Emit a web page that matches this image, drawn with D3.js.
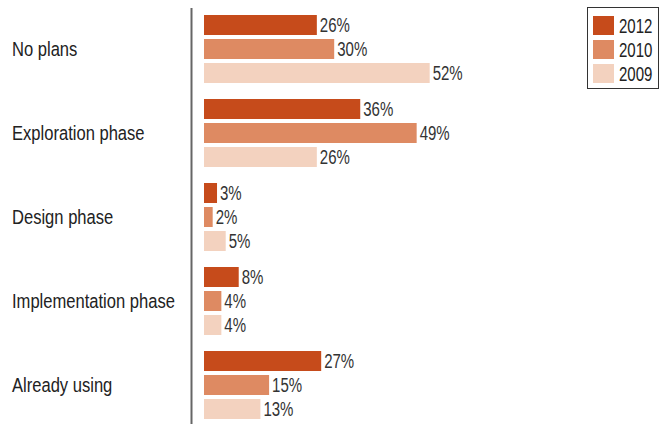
<!DOCTYPE html>
<html><head><meta charset="utf-8">
<script src="https://cdn.jsdelivr.net/npm/d3@7"></script>
<style>
body{margin:0;background:#fff;}
text{font-family:"Liberation Sans",Arial,sans-serif;}
</style></head><body>
<svg id="chart" width="663" height="424"></svg>
<script>
const categories = ["No plans","Exploration phase","Design phase","Implementation phase","Already using"];
const seriesNames = ["2012","2010","2009"];
const v2012 = [26,36,3,8,27];
const v2010 = [30,49,2,4,15];
const v2009 = [52,26,5,4,13];
const colors = ["#c64b1b","#de8a62","#f3d2bf"];

const svg = d3.select("#chart");
const series = [v2012, v2010, v2009];
const x = d3.scaleLinear().domain([0,100]).range([204, 204+434]);
const y0 = d3.scaleBand().domain(categories).range([15, 15+84*5]).paddingInner(0).paddingOuter(0);
const y1 = d3.scaleBand().domain(seriesNames).range([0, 68]).paddingInner(4/24).paddingOuter(0);

const LBL_SX = 0.85, NUM_SX = 0.77;

// axis line
svg.append("line").attr("x1",191.5).attr("x2",191.5).attr("y1",8).attr("y2",424)
  .attr("stroke","#666").attr("stroke-width",2);

const g = svg.selectAll("g.cat").data(categories).join("g")
  .attr("transform", d => `translate(0,${y0(d)})`);

g.append("text")
  .attr("transform", `translate(12,${34+6.5}) scale(${LBL_SX},1)`)
  .attr("font-size",19.5).attr("fill","#222").text(d=>d);

seriesNames.forEach((s,si)=>{
  g.append("rect")
    .attr("x", x(0))
    .attr("y", y1(s))
    .attr("height", y1.bandwidth())
    .attr("width", (d,i)=> x(series[si][i]) - x(0))
    .attr("fill", colors[si]);
  g.append("text")
    .attr("transform", (d,i)=> `translate(${x(series[si][i]) + 3},${y1(s) + y1.bandwidth()/2 + 7.3}) scale(${NUM_SX},1)`)
    .attr("font-size",19.5).attr("fill","#333")
    .text((d,i)=> series[si][i] + "%");
});

// legend
const lg = svg.append("g");
lg.append("rect").attr("x",587.5).attr("y",7.5).attr("width",71).attr("height",81)
  .attr("fill","#fff").attr("stroke","#333").attr("stroke-width",1);
seriesNames.forEach((s,i)=>{
  lg.append("rect").attr("x",593).attr("y",16+24*i).attr("width",21).attr("height",19).attr("fill",colors[i]);
  lg.append("text").attr("transform",`translate(619,${25.5+24*i+7.3}) scale(${NUM_SX},1)`)
    .attr("font-size",19.5).attr("fill","#222").text(s);
});
</script>
</body></html>
